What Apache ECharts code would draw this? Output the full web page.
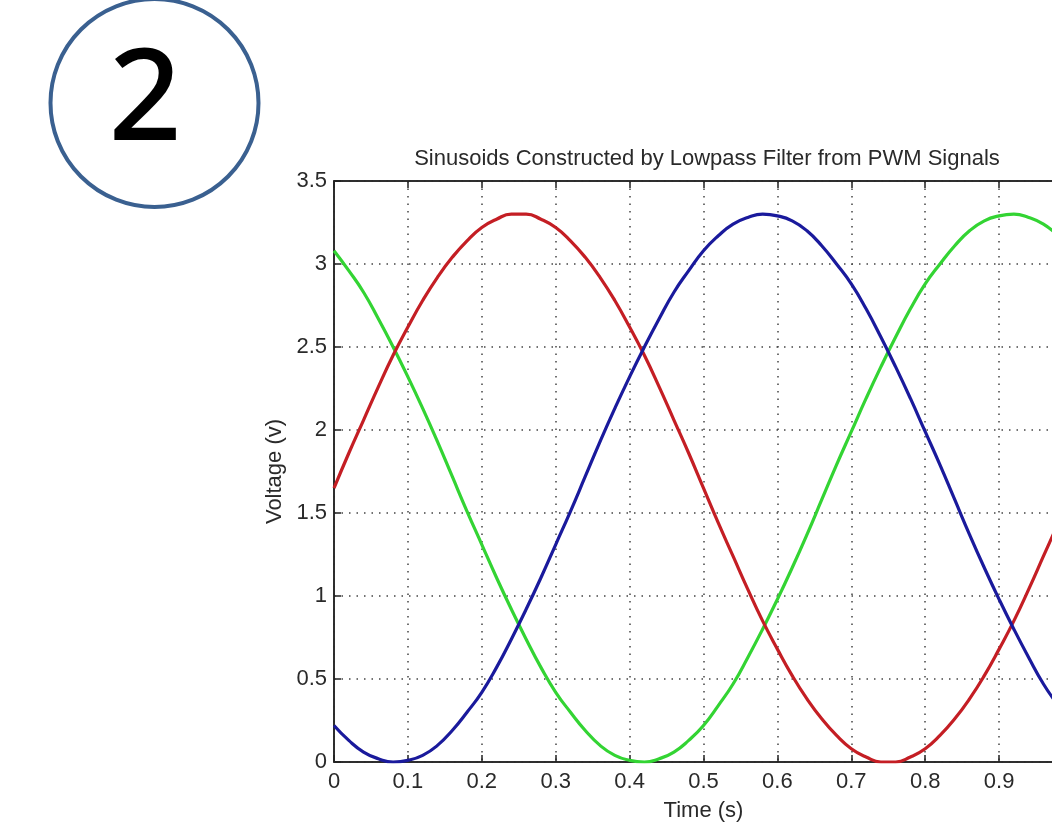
<!DOCTYPE html>
<html>
<head>
<meta charset="utf-8">
<script src="https://cdn.jsdelivr.net/npm/echarts@6/dist/echarts.min.js"></script>
<style>
html,body{margin:0;padding:0;background:#fff;}
#chart{width:1052px;height:822px;}
</style>
</head>
<body>
<div id="chart"></div>
<script>
// Time samples (s)
const timeS = [0,0.02,0.04,0.06,0.08,0.10,0.12,0.14,0.16,0.18,0.20,0.22,0.24,0.26,0.28,0.30,0.32,0.34,0.36,0.38,0.40,0.42,0.44,0.46,0.48,0.50,0.52,0.54,0.56,0.58,0.60,0.62,0.64,0.66,0.68,0.70,0.72,0.74,0.76,0.78,0.80,0.82,0.84,0.86,0.88,0.90,0.92,0.94,0.96,0.98,1.00];
// Voltages (V)
const redV = [1.65,1.86,2.06,2.26,2.45,2.62,2.78,2.92,3.04,3.14,3.22,3.27,3.30,3.30,3.27,3.22,3.14,3.04,2.92,2.78,2.62,2.45,2.26,2.06,1.86,1.65,1.44,1.24,1.04,0.85,0.68,0.52,0.38,0.26,0.16,0.08,0.03,0.00,0.00,0.03,0.08,0.16,0.26,0.38,0.52,0.68,0.85,1.04,1.24,1.44,1.65];
const blueV = [0.22,0.13,0.06,0.02,0.00,0.01,0.04,0.10,0.19,0.30,0.42,0.57,0.74,0.92,1.11,1.31,1.51,1.72,1.93,2.13,2.32,2.50,2.67,2.83,2.96,3.08,3.17,3.24,3.28,3.30,3.29,3.26,3.20,3.11,3.00,2.88,2.73,2.56,2.38,2.19,1.99,1.79,1.58,1.37,1.17,0.98,0.80,0.63,0.47,0.34,0.22];
const greenV = [3.08,2.96,2.83,2.67,2.50,2.32,2.13,1.93,1.72,1.51,1.31,1.11,0.92,0.74,0.57,0.42,0.30,0.19,0.10,0.04,0.01,0.00,0.02,0.06,0.13,0.22,0.34,0.47,0.63,0.80,0.98,1.17,1.37,1.58,1.79,1.99,2.19,2.38,2.56,2.73,2.88,3.00,3.11,3.20,3.26,3.29,3.30,3.28,3.24,3.17,3.08];
const titleText = 'Sinusoids Constructed by Lowpass Filter from PWM Signals';
const xName = 'Time (s)';
const yName = 'Voltage (v)';
const badge = '2';

const pairs = (ys) => timeS.map((t, i) => [t, ys[i]]);
const FONT = 'Liberation Sans';
const TXT = '#2a2a2a';
const FS = 22;
const gridLine = { show: true, lineStyle: { color: '#444', width: 1.5, type: [1.5, 6] } };

const chart = echarts.init(document.getElementById('chart'), null, { renderer: 'canvas' });
chart.setOption({
  animation: false,
  backgroundColor: '#fff',
  title: {
    text: titleText,
    left: 702, top: 143, textAlign: 'center',
    textStyle: { fontFamily: FONT, fontSize: FS, fontWeight: 'normal', color: TXT }
  },
  grid: { left: 334, top: 181, right: -21, bottom: 60, show: true, borderColor: '#222', borderWidth: 1.5, containLabel: false, outerBoundsMode: 'none' },
  xAxis: [{
    type: 'value', min: 0, max: 1, interval: 0.1, position: 'bottom',
    name: xName, nameLocation: 'middle', nameGap: 38,
    nameTextStyle: { fontFamily: FONT, fontSize: FS, color: TXT },
    axisLine: { show: true, onZero: false, lineStyle: { color: '#222', width: 1.5 } },
    axisTick: { show: true, inside: true, length: 7, lineStyle: { color: '#222', width: 1.5 } },
    axisLabel: { fontFamily: FONT, fontSize: FS, color: TXT, margin: 9, formatter: v => String(Math.round(v*10)/10) },
    splitLine: gridLine
  }, {
    type: 'value', min: 0, max: 1, interval: 0.1, position: 'top',
    axisLine: { show: true, onZero: false, lineStyle: { color: '#222', width: 1.5 } },
    axisTick: { show: true, inside: true, length: 7, lineStyle: { color: '#222', width: 1.5 } },
    axisLabel: { show: false }, splitLine: { show: false }
  }],
  yAxis: [{
    type: 'value', min: 0, max: 3.5, interval: 0.5,
    name: yName, nameLocation: 'middle', nameGap: 48, nameRotate: 90,
    nameTextStyle: { fontFamily: FONT, fontSize: FS, color: TXT },
    axisLine: { show: true, onZero: false, lineStyle: { color: '#222', width: 1.5 } },
    axisTick: { show: true, inside: true, length: 7, lineStyle: { color: '#222', width: 1.5 } },
    axisLabel: { fontFamily: FONT, fontSize: FS, color: TXT, margin: 7 },
    splitLine: gridLine
  }],
  series: [
    { type: 'line', data: pairs(redV), smooth: true, showSymbol: false, lineStyle: { color: '#c41e24', width: 3.2 }, z: 3 },
    { type: 'line', data: pairs(blueV), smooth: true, showSymbol: false, lineStyle: { color: '#1a1a9c', width: 3.2 }, z: 4 },
    { type: 'line', data: pairs(greenV), smooth: true, showSymbol: false, lineStyle: { color: '#33d433', width: 3.2 }, z: 2 }
  ],
  graphic: [
    { type: 'circle', shape: { cx: 154.5, cy: 103, r: 104 }, style: { fill: '#fff', stroke: '#3a6090', lineWidth: 4 }, z: 10 },
    { type: 'text', x: 145, y: 104, style: { text: badge, fontFamily: 'Noto Sans', fontSize: 128, fontWeight: 500, fill: '#000', textAlign: 'center', textVerticalAlign: 'middle' }, z: 11 }
  ]
});
</script>
</body>
</html>
